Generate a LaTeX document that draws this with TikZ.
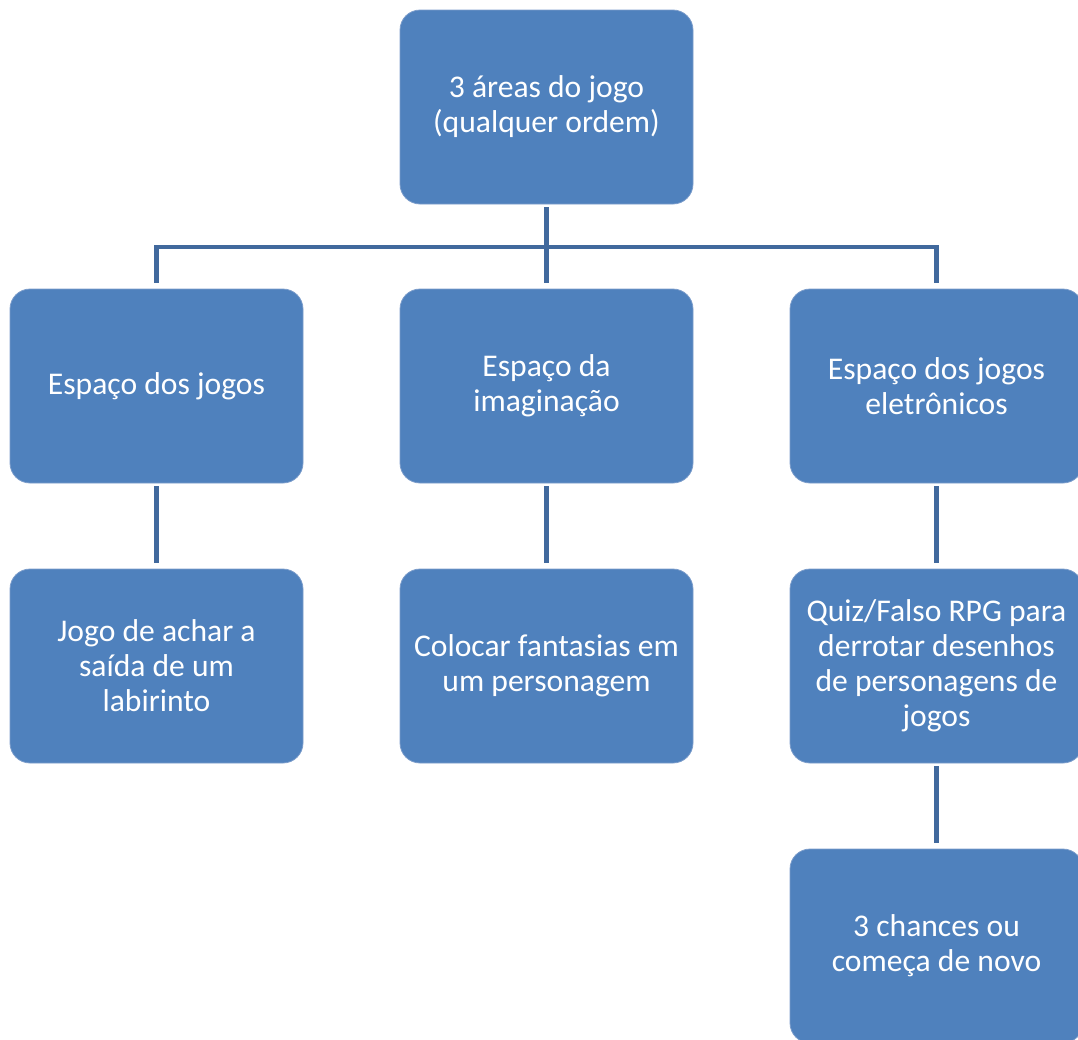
\documentclass[tikz,border=0pt]{standalone}
\usepackage{fontspec}
\setmainfont{Carlito}
\usetikzlibrary{positioning}
\definecolor{boxblue}{HTML}{4F81BD}
\definecolor{edgeblue}{HTML}{7C9DCB}
\definecolor{linkblue}{HTML}{41699D}

\begin{document}
\begin{tikzpicture}[x=0.75pt, y=-0.75pt, % 1 unit = 1 pixel of the reference, y pointing down
  box/.style={rectangle, rounded corners=15pt, fill=boxblue, draw=edgeblue, line width=0.6pt,
    minimum width=219.75pt, minimum height=145.5pt, align=center, text=white,
    font=\fontsize{23.7}{26.25}\selectfont},
  link/.style={draw=linkblue, line width=3.5pt, shorten <=2.25pt, shorten >=4.5pt}]

  % page frame, the right and bottom boxes run off it
  \useasboundingbox (0,0) rectangle (1078,1039);

  % =============== top box ===============
  \node[box] (root) at (546.5,107) {3 áreas do jogo\\(qualquer ordem)};

  % =============== second row: the three spaces ===============
  \node[box] (jogos)  at (156.5,386) {Espaço dos jogos};
  \node[box] (imag)   at (546.5,386) {Espaço da\\imaginação};
  \node[box] (eletro) at (936.5,386) {Espaço dos jogos\\eletrônicos};

  % =============== third row ===============
  \node[box] (labir)  at (156.5,666) {Jogo de achar a\\saída de um\\labirinto};
  \node[box] (fanta)  at (546.5,666) {Colocar fantasias em\\um personagem};
  \node[box] (quiz)   at (936.5,666) {Quiz/Falso RPG para\\derrotar desenhos\\de personagens de\\jogos};

  % =============== fourth row ===============
  \node[box] (chance) at (936.5,946) {3 chances ou\\começa de novo};

  % =============== connectors ===============
  \coordinate (bar) at (0,247);
  \draw[link] (root.south) -- (imag.north);
  \draw[link, shorten <=4.5pt] (jogos.north) -- (jogos.north |- bar) -- (eletro.north |- bar) -- (eletro.north);
  \draw[link] (jogos.south) -- (labir.north);
  \draw[link] (imag.south) -- (fanta.north);
  \draw[link] (eletro.south) -- (quiz.north);
  \draw[link] (quiz.south) -- (chance.north);

\end{tikzpicture}
\end{document}
